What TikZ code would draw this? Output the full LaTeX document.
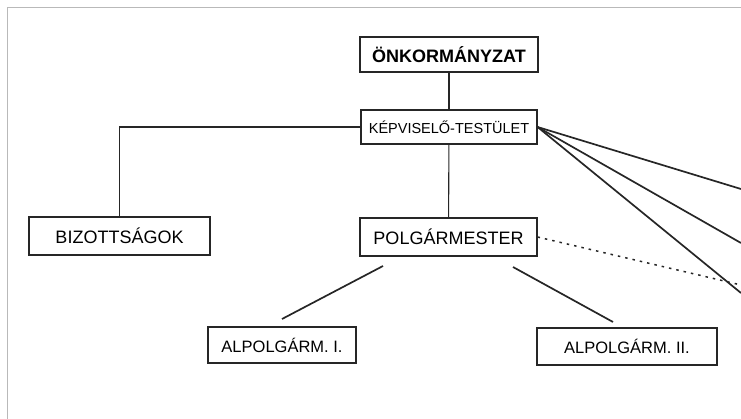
\documentclass[tikz,border=0pt]{standalone}
\usepackage{fontspec}
\setmainfont{Liberation Sans}
\usepackage{tikz}

\begin{document}
\begin{tikzpicture}
        [
            x = 1pt, y = -1pt,
            ink/.style = {draw = black!85},
            unit/.style = {ink, line width = 1.1pt, inner sep = 0pt, fill = white,
                           font = \fontsize{18}{20}\selectfont},
            link/.style = {ink, line width = 1.1pt},
            ray/.style = {ink, line width = 1.7pt}
        ]

        \useasboundingbox (0,0) rectangle (741,419);
        \draw[gray!55, line width = 0.8pt] (7,419) -- (7,7) -- (741,7);

        \node[unit, line width = 1.6pt, minimum width = 178pt, minimum height = 35pt,
              font = \fontsize{18}{20}\selectfont\bfseries] (onk) at (449,54.5) {ÖNKORMÁNYZAT};
        \node[unit, minimum width = 176pt, minimum height = 34pt,
              font = \fontsize{14.5}{16}\selectfont] (kep) at (449,127) {KÉPVISELŐ-TESTÜLET};
        \node[unit, minimum width = 181pt, minimum height = 38pt] (biz) at (119.5,236) {BIZOTTSÁGOK};
        \node[unit, minimum width = 177pt, minimum height = 38pt] (polg) at (448.5,237) {POLGÁRMESTER};
        \node[unit, minimum width = 148pt, minimum height = 36pt,
              font = \fontsize{16.5}{18}\selectfont] (alp1) at (282,345) {ALPOLGÁRM. I.};
        \node[unit, minimum width = 180pt, minimum height = 37pt,
              font = \fontsize{16.5}{18}\selectfont] (alp2) at (627,346.5) {ALPOLGÁRM. II.};

        \coordinate (e1) at (741,189);
        \coordinate (e2) at (741,243);
        \coordinate (e3) at (741,293);
        \coordinate (d1) at (741,285);
        \coordinate (a1) at (383,266);
        \coordinate (b1) at (282,319);
        \coordinate (a2) at (513,267);
        \coordinate (b2) at (613,322);

        \draw[link] (onk) -- (kep);
        \draw[link] (kep) -- (polg);
        \draw[link] (kep.west) -| (biz.north);
        \draw[ray] (a1) -- (b1);
        \draw[ray] (a2) -- (b2);
        \draw[ray] (kep.east) -- (e1);
        \draw[ray] (kep.east) -- (e2);
        \draw[ray] (kep.east) -- (e3);
        \draw[ink, line width = 1.5pt, dash pattern = on 2.5pt off 5pt] (polg.east) -- (d1);
\end{tikzpicture}
\end{document}
